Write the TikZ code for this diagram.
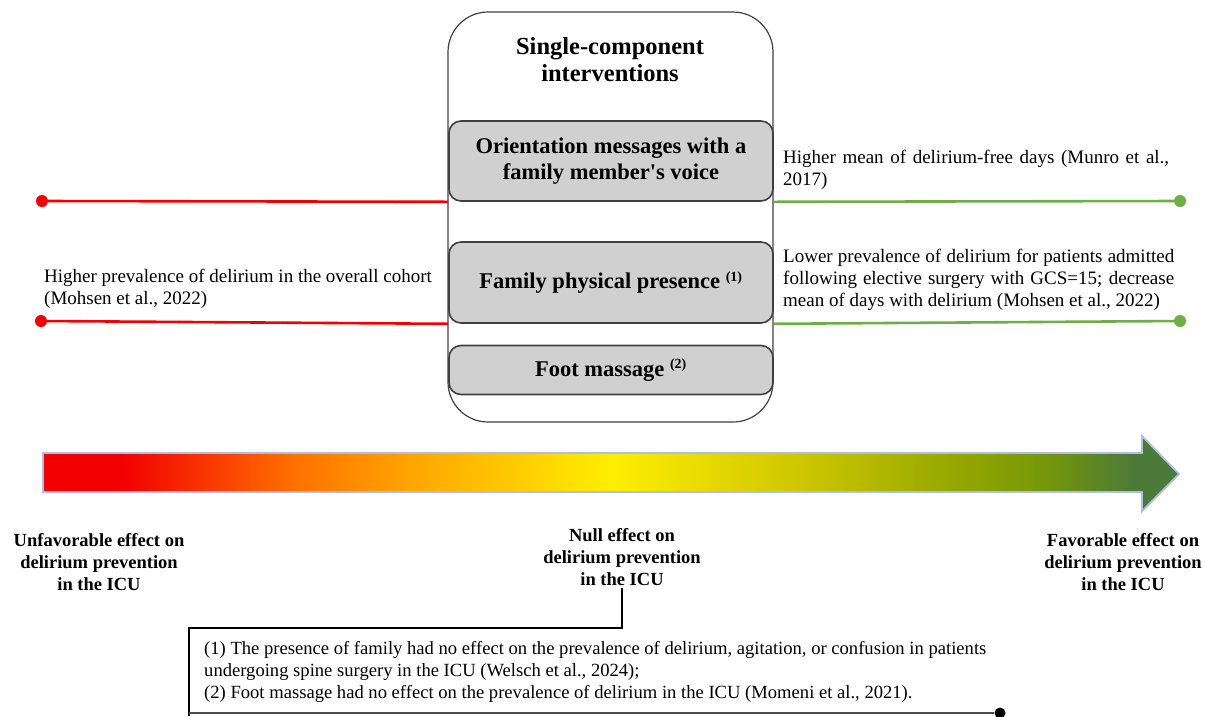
\documentclass[tikz,border=0pt]{standalone}
\usepackage{xcolor}
\usepackage{fontspec}
\setmainfont{Liberation Serif}
\usepackage{tikz}
\usetikzlibrary{arrows.meta}
\definecolor{boxgray}{RGB}{208,208,208}
\definecolor{edgegray}{RGB}{64,64,64}
\definecolor{badred}{RGB}{240,0,0}
\definecolor{goodgreen}{RGB}{112,173,71}
\definecolor{glowblue}{RGB}{175,190,228}
\definecolor{effred}{RGB}{242,0,0}
\definecolor{efforange}{RGB}{255,112,0}
\definecolor{effamber}{RGB}{255,168,0}
\definecolor{effyellow}{RGB}{255,238,0}
\definecolor{effmustard}{RGB}{208,200,0}
\definecolor{effolive}{RGB}{150,168,0}
\definecolor{effleaf}{RGB}{118,152,8}
\definecolor{effgreen}{RGB}{76,122,56}
\pgfdeclarehorizontalshading{effect}{100bp}{color(0bp)=(effred); color(28.5bp)=(effred);
  color(36bp)=(efforange); color(41.5bp)=(effamber); color(50bp)=(effyellow);
  color(58bp)=(effmustard); color(65bp)=(effolive); color(69bp)=(effleaf);
  color(73bp)=(effgreen); color(100bp)=(effgreen)}
\hyphenpenalty=10000
\exhyphenpenalty=10000

\begin{document}
\begin{tikzpicture}[x=1pt,y=-1pt,
   body/.style={font=\fontsize{19}{22}\selectfont,inner sep=0pt},
   head/.style={font=\fontsize{18.5}{22}\selectfont\bfseries,align=center,inner sep=0pt},
   outer/.style={draw=edgegray,line width=1.2pt,rounded corners=40pt,
     minimum width=325pt,minimum height=410pt},
   intbox/.style={draw=edgegray,fill=boxgray,line width=1.6pt,rounded corners=12pt,
     minimum width=324pt,align=center,inner sep=0pt,
     font=\fontsize{22.5}{26}\selectfont\bfseries},
   reddot/.style={circle,fill=badred,minimum size=12pt,inner sep=0pt},
   greendot/.style={circle,fill=goodgreen,minimum size=12pt,inner sep=0pt},
   blackdot/.style={circle,fill=black,minimum size=11pt,inner sep=0pt},
   redline/.style={draw=badred,line width=2.6pt},
   greenline/.style={draw=goodgreen,line width=2.6pt},
   noteline/.style={draw=black,line width=1.2pt}]
  \useasboundingbox (0,0) rectangle (1207,716);
  % interventions
  \node[outer] (single) at (610.5,217) {};
  \node[head,font=\fontsize{24.5}{27}\selectfont\bfseries] (title) at (610,60)
    {Single-component\\interventions};
  \node[intbox,minimum height=80pt] (orient) at (611,161)
    {Orientation messages with a\\family member\textquotesingle s voice};
  \node[intbox,minimum height=81pt] (presence) at (611,282.5)
    {Family physical presence \textsuperscript{\fontsize{14}{14}\selectfont(1)}};
  \node[intbox,minimum height=49pt] (foot) at (611,370)
    {Foot massage \textsuperscript{\fontsize{14}{14}\selectfont(2)}};
  % unfavorable side
  \node[reddot] (bad1) at (42,201) {};
  \node[reddot] (bad2) at (41,321) {};
  \draw[redline] (bad1) -- (orient.south west);
  \draw[redline] (bad2) -- (presence.south west);
  \node[body,anchor=north west,align=left] (badtext) at (44,269)
    {Higher prevalence of delirium in the overall cohort\\(Mohsen et al., 2022)};
  % favorable side
  \node[greendot] (good1) at (1180,201) {};
  \node[greendot] (good2) at (1180,321) {};
  \draw[greenline] (orient.south east) -- (good1);
  \draw[greenline] (presence.south east) -- (good2);
  \node[body,anchor=north west,align=justify,text width=386pt] (goodtext1) at (783,150)
    {Higher mean of delirium-free days (Munro et al., 2017)};
  \node[body,anchor=north west,align=justify,text width=391pt] (goodtext2) at (783,249)
    {Lower prevalence of delirium for patients admitted following elective surgery with GCS=15; decrease mean of days with delirium (Mohsen et al., 2022)};
  % effect scale
  \path[shade,shading=effect,draw=glowblue,line width=1.8pt,line join=miter]
    (43,453) -- (1142,453) -- (1142,436) -- (1179,474) -- (1142,511)
    -- (1142,492) -- (43,492) -- cycle;
  \node[head,anchor=north] (unfav) at (99,533)
    {Unfavorable effect on\\delirium prevention\\in the ICU};
  \node[head,anchor=north,inner sep=2pt] (null) at (622,526)
    {Null effect on\\delirium prevention\\in the ICU};
  \node[head,anchor=north] (fav) at (1123,533)
    {Favorable effect on\\delirium prevention\\in the ICU};
  % notes
  \coordinate (bend) at (622,628);
  \coordinate (corner) at (189,628);
  \coordinate (edge) at (189,716);
  \draw[noteline] (null.south) -- (bend) -- (corner) -- (edge);
  \node[body,anchor=north west,align=left,font=\fontsize{18.6}{22}\selectfont] (notes) at (204,641)
    {(1) The presence of family had no effect on the prevalence of delirium, agitation, or confusion in patients\\
     undergoing spine surgery in the ICU (Welsch et al., 2024);\\
     (2) Foot massage had no effect on the prevalence of delirium in the ICU (Momeni et al., 2021).};
  \coordinate (noteend) at (189,713);
  \node[blackdot] (notedot) at (1000,713) {};
  \draw[noteline,draw=gray!60!black] (noteend) -- (notedot);
\end{tikzpicture}
\end{document}
